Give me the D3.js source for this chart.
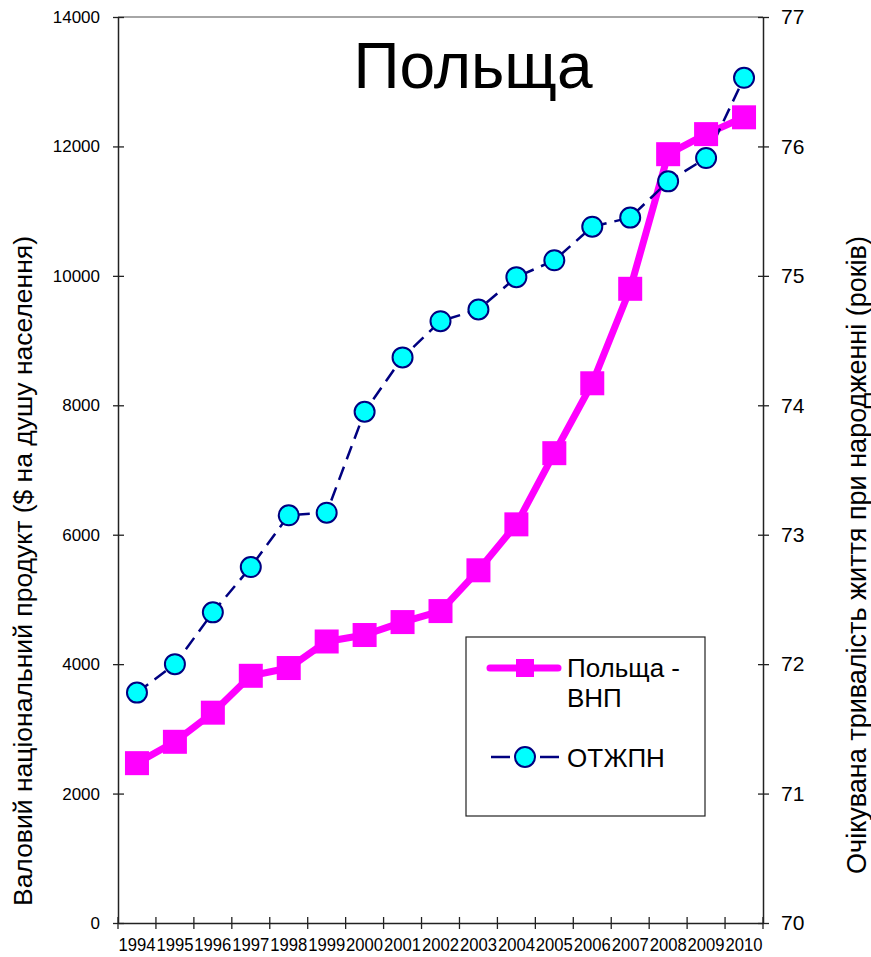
<!DOCTYPE html>
<meta charset="utf-8">
<style>
body { margin: 0; background: #fff; }
text { font-family: "Liberation Sans", Arial, sans-serif; fill: #000; }
.tick line { stroke: #222; stroke-width: 1.3; }
.domain { stroke: #222; stroke-width: 1.5; }
</style>
<body>
<svg width="871" height="957"></svg>
</body>
<script src="https://cdn.jsdelivr.net/npm/d3@7"></script>
<script>

var years = ["1994","1995","1996","1997","1998","1999","2000","2001","2002",
             "2003","2004","2005","2006","2007","2008","2009","2010"];
var gnp = [2470, 2800, 3250, 3820, 3940, 4350, 4450, 4650, 4820,
           5450, 6160, 7260, 8340, 9800, 11880, 12190, 12450];
var lifeExp = [71.78, 72.0, 72.4, 72.75, 73.15, 73.17, 73.95, 74.37, 74.65,
               74.74, 74.99, 75.12, 75.38, 75.45, 75.73, 75.91, 76.53];
var leftTicks = [0, 2000, 4000, 6000, 8000, 10000, 12000, 14000];
var rightTicks = [70, 71, 72, 73, 74, 75, 76, 77];

var svg = d3.select("svg");
var plotL = 118, plotR = 763, plotT = 17, plotB = 923;

var x = d3.scaleBand().domain(years).range([plotL, plotR]);
var yL = d3.scaleLinear().domain([0, 14000]).range([plotB, plotT]);
var yR = d3.scaleLinear().domain([70, 77]).range([plotB, plotT]);

// plot border (gray top)
svg.append("line")
    .attr("x1", plotL).attr("x2", plotR)
    .attr("y1", plotT).attr("y2", plotT)
    .attr("stroke", "#888").attr("stroke-width", 1.5);

// left axis
var gl = svg.append("g")
    .attr("transform", "translate(" + plotL + ",0)")
    .call(d3.axisLeft(yL).tickValues(leftTicks).tickFormat(d3.format("d"))
          .tickSize(5).tickPadding(13).tickSizeOuter(0));
gl.selectAll(".tick line").attr("x2", 6).attr("x1", -5);
gl.selectAll(".tick text").style("font-size", "17px");

// right axis
var gr = svg.append("g")
    .attr("transform", "translate(" + plotR + ",0)")
    .call(d3.axisRight(yR).tickValues(rightTicks).tickFormat(d3.format("d"))
          .tickSize(6).tickPadding(12).tickSizeOuter(0));
gr.selectAll(".tick line").attr("x1", -5).attr("x2", 6);
gr.selectAll(".tick text").style("font-size", "21px");

// bottom axis: ticks between categories
var gb = svg.append("g")
    .attr("transform", "translate(0," + plotB + ")")
    .call(d3.axisBottom(x).tickSize(0).tickPadding(16).tickSizeOuter(0));
gb.selectAll(".tick text")
    .style("font-size", "17.5px")
    .attr("textLength", 37)
    .attr("lengthAdjust", "spacingAndGlyphs");
gb.selectAll(".sep")
    .data(d3.range(years.length + 1))
    .enter().append("line")
    .attr("class", "sep")
    .attr("x1", function(i) { return plotL + i * x.step(); })
    .attr("x2", function(i) { return plotL + i * x.step(); })
    .attr("y1", -6).attr("y2", 6)
    .attr("stroke", "#222").attr("stroke-width", 1.3);

// GNP line (left axis)
var gnpLine = d3.line()
    .x(function(d, i) { return x(years[i]) + x.bandwidth() / 2; })
    .y(function(d) { return yL(d); });

svg.append("path")
    .datum(gnp)
    .attr("d", gnpLine)
    .attr("fill", "none")
    .attr("stroke", "#ff00ff")
    .attr("stroke-width", 7)
    .attr("stroke-linejoin", "round");

// life expectancy line (right axis)
var leLine = d3.line()
    .x(function(d, i) { return x(years[i]) + x.bandwidth() / 2; })
    .y(function(d) { return yR(d); });

svg.append("path")
    .datum(lifeExp)
    .attr("d", leLine)
    .attr("fill", "none")
    .attr("stroke", "#000080")
    .attr("stroke-width", 2.5)
    .attr("stroke-dasharray", "14,8");

svg.selectAll(".sq")
    .data(gnp)
    .enter().append("rect")
    .attr("class", "sq")
    .attr("x", function(d, i) { return x(years[i]) + x.bandwidth() / 2 - 12; })
    .attr("y", function(d) { return yL(d) - 12; })
    .attr("width", 24).attr("height", 24)
    .attr("fill", "#ff00ff");

svg.selectAll(".dot")
    .data(lifeExp)
    .enter().append("circle")
    .attr("class", "dot")
    .attr("cx", function(d, i) { return x(years[i]) + x.bandwidth() / 2; })
    .attr("cy", function(d) { return yR(d); })
    .attr("r", 10)
    .attr("fill", "#00ffff")
    .attr("stroke", "#000080")
    .attr("stroke-width", 2);

// title
svg.append("text")
    .attr("x", 473).attr("y", 88)
    .attr("text-anchor", "middle")
    .style("font-size", "64px")
    .text("Польща");

// axis titles
svg.append("text")
    .attr("transform", "translate(32,571) rotate(-90)")
    .attr("text-anchor", "middle")
    .style("font-size", "26.5px")
    .text("Валовий національний продукт ($ на душу населення)");

svg.append("text")
    .attr("transform", "translate(866,555) rotate(-90)")
    .attr("text-anchor", "middle")
    .style("font-size", "27px")
    .text("Очікувана тривалість життя при народженні (років)");

// legend
var lg = svg.append("g");
lg.append("rect")
    .attr("x", 466).attr("y", 637)
    .attr("width", 239).attr("height", 179)
    .attr("fill", "#fff").attr("stroke", "#222").attr("stroke-width", 1.2);
lg.append("line")
    .attr("x1", 490).attr("x2", 558).attr("y1", 668).attr("y2", 668)
    .attr("stroke", "#ff00ff").attr("stroke-width", 7).attr("stroke-linecap", "round");
lg.append("rect")
    .attr("x", 516).attr("y", 659).attr("width", 18).attr("height", 18)
    .attr("fill", "#ff00ff");
lg.append("text").attr("x", 567).attr("y", 677).style("font-size", "26px").text("Польща -");
lg.append("text").attr("x", 567).attr("y", 707).style("font-size", "26px").text("ВНП");
lg.append("line")
    .attr("x1", 491).attr("x2", 559).attr("y1", 757).attr("y2", 757)
    .attr("stroke", "#000080").attr("stroke-width", 2.5)
    .attr("stroke-dasharray", "19,30");
lg.append("circle")
    .attr("cx", 525).attr("cy", 757).attr("r", 10)
    .attr("fill", "#00ffff").attr("stroke", "#000080").attr("stroke-width", 2);
lg.append("text").attr("x", 567).attr("y", 767).style("font-size", "26px").text("ОТЖПН");

</script>
